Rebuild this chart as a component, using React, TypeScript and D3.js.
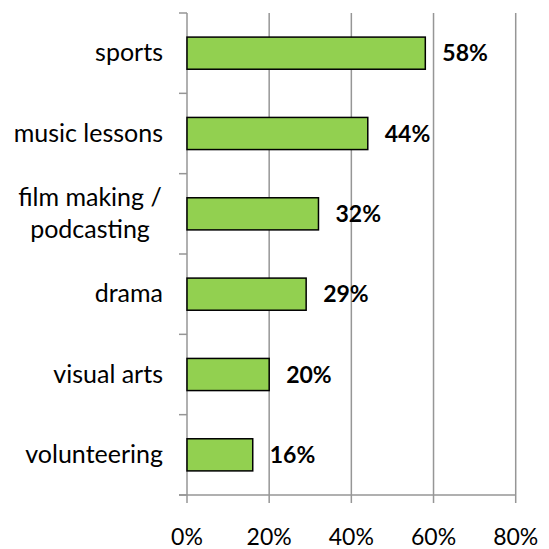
import * as d3 from 'd3'

const CATEGORIES = ['sports', 'music lessons', 'film making / podcasting', 'drama', 'visual arts', 'volunteering']
const LABEL_LINES = [['sports'], ['music lessons'], ['film making /', 'podcasting'], ['drama'], ['visual arts'], ['volunteering']]
const VALUES = [58, 44, 32, 29, 20, 16]
const TICKS = [0, 20, 40, 60, 80]

const WIDTH = 549
const HEIGHT = 549
const FONT = 'Lato, "Open Sans", sans-serif'
const GRID = '#969696'

export default function App() {
  const x = d3.scaleLinear().domain([0, 80]).range([187, 515.7])
  const y = d3.scaleBand<string>().domain(CATEGORIES).range([13, 495]).paddingInner(0.6).paddingOuter(0.3)
  const step = y.step()
  const top = 13
  const bottom = 495

  return (
    <svg width={WIDTH} height={HEIGHT} style={{ position: 'absolute', left: 0, top: 0, background: '#fff' }}>
      {/* grid lines + x ticks */}
      {TICKS.map(t => (
        <line key={t} x1={x(t)} x2={x(t)} y1={t === 0 ? bottom : top} y2={bottom + 8} stroke={GRID} strokeWidth={1.5} />
      ))}

      {/* axes */}
      <line x1={x(0)} x2={x(0)} y1={top} y2={bottom} stroke={GRID} strokeWidth={1.5} />
      <line x1={x(0) - 8} x2={x(80)} y1={bottom} y2={bottom} stroke={GRID} strokeWidth={1.5} />
      {d3.range(CATEGORIES.length + 1).map(i => (
        <line key={i} x1={x(0) - 8} x2={x(0)} y1={top + i * step} y2={top + i * step} stroke={GRID} strokeWidth={1.5} />
      ))}

      {/* bars */}
      {CATEGORIES.map((c, i) => (
        <rect
          key={c}
          x={x(0)}
          y={y(c)}
          width={x(VALUES[i]) - x(0)}
          height={y.bandwidth()}
          fill="#92d050"
          stroke="#000"
          strokeWidth={1.5}
        />
      ))}

      {/* value labels */}
      {CATEGORIES.map((c, i) => (
        <text
          key={c}
          x={x(VALUES[i]) + 17}
          y={(y(c) ?? 0) + y.bandwidth() / 2 + 8}
          fontFamily={FONT}
          fontSize={23}
          fontWeight="bold"
          fill="#000"
        >
          {VALUES[i]}%
        </text>
      ))}

      {/* category labels */}
      {CATEGORIES.map((c, i) => {
        const lines = LABEL_LINES[i]
        const cy = (y(c) ?? 0) + y.bandwidth() / 2
        if (lines.length === 1) {
          return (
            <text key={c} x={163} y={cy + 8} textAnchor="end" fontFamily={FONT} fontSize={25} fill="#000">
              {lines[0]}
            </text>
          )
        }
        return (
          <text key={c} x={90} textAnchor="middle" fontFamily={FONT} fontSize={25} fill="#000">
            {lines.map((l, j) => (
              <tspan key={j} x={90} y={cy - 8 + j * 32}>{l}</tspan>
            ))}
          </text>
        )
      })}

      {/* x tick labels */}
      {TICKS.map(t => (
        <text key={t} x={x(t)} y={545} textAnchor="middle" fontFamily={FONT} fontSize={23} fill="#000">
          {t}%
        </text>
      ))}
    </svg>
  )
}
